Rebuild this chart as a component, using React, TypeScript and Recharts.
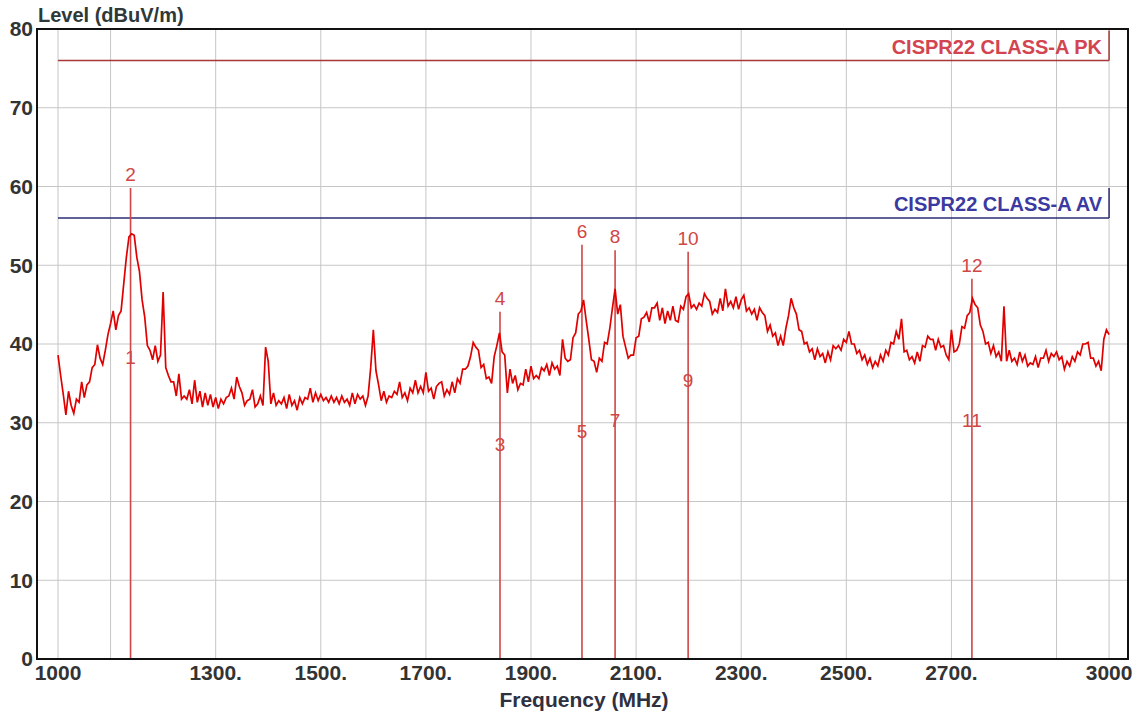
import { ComposedChart, Line, Scatter, XAxis, YAxis, CartesianGrid, ReferenceLine } from "recharts";

// sweep: 1000 .. 3000 MHz, one reading every 5 MHz (dBuV/m)
const START_MHZ = 1000;
const STEP_MHZ = 5;
const levels = [
  38.6, 36.0, 33.6, 31.0, 34.0, 32.2, 31.2, 33.0, 32.6, 35.2, 33.2, 34.8, 35.2, 37.0, 37.4, 39.9, 38.2, 37.4, 39.2, 41.2,
  42.6, 44.2, 41.8, 43.6, 44.2, 47.6, 51.0, 53.6, 54.0, 53.8, 51.0, 49.2, 45.6, 43.4, 39.8, 39.2, 38.0, 39.8, 37.8, 38.6,
  46.6, 37.0, 36.0, 35.2, 35.2, 33.4, 36.2, 33.0, 33.4, 33.0, 34.2, 32.4, 35.4, 32.6, 34.0, 32.0, 33.8, 32.2, 33.6, 32.0,
  33.2, 31.8, 33.0, 32.4, 33.2, 33.4, 34.4, 33.0, 35.8, 34.6, 33.8, 32.2, 32.8, 33.0, 34.2, 32.0, 32.4, 33.4, 32.2, 39.6,
  37.8, 32.4, 33.8, 32.2, 32.8, 32.4, 33.2, 31.8, 33.6, 32.2, 32.8, 31.6, 33.2, 32.4, 33.2, 33.0, 34.4, 32.6, 33.8, 32.8,
  33.6, 32.8, 33.2, 32.6, 33.4, 32.6, 33.2, 32.4, 33.4, 32.6, 33.0, 32.2, 33.8, 32.4, 33.6, 33.0, 33.4, 32.2, 33.4, 37.0,
  41.8, 36.6, 34.8, 32.8, 34.0, 32.6, 33.4, 33.2, 34.0, 33.6, 35.2, 33.2, 33.8, 32.8, 34.4, 33.8, 35.4, 33.8, 34.6, 33.8,
  36.4, 34.0, 34.4, 33.0, 34.6, 35.0, 35.2, 33.4, 34.2, 33.6, 35.2, 33.8, 35.6, 35.0, 36.8, 36.8, 37.2, 38.4, 40.2, 39.6,
  39.2, 37.0, 37.4, 35.6, 35.8, 35.0, 38.4, 39.8, 41.4, 39.0, 38.6, 33.8, 36.8, 35.0, 36.0, 34.2, 35.0, 34.8, 36.8, 35.2,
  37.2, 35.6, 36.0, 35.6, 37.0, 36.6, 37.4, 36.0, 37.6, 36.8, 37.2, 36.0, 40.6, 38.2, 37.8, 38.0, 40.8, 41.4, 43.8, 44.2,
  45.6, 43.0, 40.6, 38.0, 37.8, 36.4, 38.2, 37.8, 40.2, 40.0, 42.0, 44.6, 47.0, 43.8, 45.0, 41.0, 39.6, 38.2, 38.6, 38.6,
  40.8, 41.0, 43.2, 43.4, 44.0, 42.8, 44.6, 44.6, 45.2, 43.0, 44.6, 42.6, 44.2, 43.0, 44.8, 43.0, 42.8, 44.8, 44.4, 46.0,
  46.4, 44.6, 45.0, 44.4, 45.2, 44.8, 46.4, 45.8, 45.4, 43.8, 44.4, 44.0, 45.8, 44.2, 47.0, 44.8, 45.4, 44.6, 46.0, 44.4,
  45.6, 46.2, 44.2, 44.6, 43.8, 44.4, 43.0, 44.6, 44.0, 43.6, 41.6, 42.4, 41.0, 41.4, 39.8, 41.0, 39.8, 42.0, 43.6, 45.8,
  44.6, 43.8, 41.8, 41.6, 40.0, 40.2, 39.0, 39.4, 38.0, 39.4, 38.4, 38.8, 37.6, 39.0, 38.0, 39.8, 39.4, 39.8, 39.2, 40.6,
  40.2, 41.6, 40.0, 40.0, 38.8, 39.2, 38.0, 38.6, 37.4, 38.2, 37.0, 37.8, 37.2, 38.6, 37.8, 39.2, 38.6, 40.2, 40.0, 41.6,
  40.6, 43.2, 39.0, 39.2, 38.0, 38.4, 37.6, 39.0, 37.8, 39.8, 39.6, 41.0, 40.6, 40.6, 39.2, 40.6, 39.6, 39.8, 38.6, 38.0,
  41.8, 39.0, 39.2, 40.0, 42.2, 42.0, 43.6, 44.0, 45.8, 45.0, 44.6, 42.4, 41.6, 40.0, 40.2, 38.8, 39.8, 38.4, 39.0, 37.8,
  44.8, 37.8, 39.2, 37.8, 38.2, 37.4, 39.0, 37.8, 38.6, 37.2, 37.6, 37.4, 38.4, 37.0, 38.2, 38.2, 39.2, 37.8, 38.8, 38.4,
  39.0, 38.0, 38.4, 36.8, 37.8, 37.2, 38.4, 37.8, 39.0, 38.6, 40.0, 40.0, 40.2, 38.2, 38.2, 37.2, 37.8, 36.6, 40.6, 41.8,
  41.2,
];

// measurement markers: odd number = AV reading, even number = PK reading
const markerFreqs = [1138, 1841, 1997, 2060, 2199, 2739];
const markerPeaks = [59.8, 44.1, 52.6, 51.9, 51.7, 48.3];
const markerAvgs = [38.4, 27.3, 29.0, 30.3, 35.4, 30.3];

// limits
const limitNames = ["CISPR22 CLASS-A PK", "CISPR22 CLASS-A AV"];
const limitLevels = [76, 56];
const limitStart = 1000;
const limitEnd = 3000;

const xTicks = [1000, 1100, 1300, 1500, 1700, 1900, 2100, 2300, 2500, 2700, 2900, 3000];
const xLabels = ["1000", "", "1300.", "1500.", "1700.", "1900.", "2100.", "2300.", "2500.", "2700.", "", "3000"];
const yTicks = [0, 10, 20, 30, 40, 50, 60, 70, 80];

const spectrum = levels.map((level, i) => ({ freq: START_MHZ + i * STEP_MHZ, level }));
const markers = markerFreqs.map((freq, i) => ({
  freq,
  peak: markerPeaks[i],
  avg: markerAvgs[i],
  avgNo: String(i * 2 + 1),
  peakNo: String(i * 2 + 2),
}));
const limits = limitNames.map((name, i) => ({ freq: limitEnd, level: limitLevels[i], name }));

const W = 1142;
const H = 715;
const PLOT = { left: 37, top: 29, right: 1128, bottom: 659 };
const FONT = "'Liberation Sans', Arial, sans-serif";
const AXIS_TEXT = "#333";
const TRACE = "#e00000";
const MARKER = "#d04646";
const limitColors = ["#a83838", "#2c2c78"];
const limitTextColors = ["#d24450", "#3a3aa0"];

const PeakLabel = (props: any) => (
  <text x={props.cx} y={props.cy - 7} textAnchor="middle" fontFamily={FONT} fontSize={19} fill={MARKER}>
    {props.payload.peakNo}
  </text>
);

const AvgLabel = (props: any) => (
  <text x={props.cx} y={props.cy + 7} textAnchor="middle" fontFamily={FONT} fontSize={19} fill={MARKER}>
    {props.payload.avgNo}
  </text>
);

const LimitLabel = (props: any) => {
  const i = limitNames.indexOf(props.payload.name);
  return (
    <g>
      <line x1={props.cx} x2={props.cx} y1={props.cy - 30} y2={props.cy} stroke={limitColors[i]} strokeWidth={1.5} />
      <text
        x={props.cx - 7}
        y={props.cy - 7}
        textAnchor="end"
        fontFamily={FONT}
        fontWeight="bold"
        fontSize={20}
        fill={limitTextColors[i]}
      >
        {props.payload.name}
      </text>
    </g>
  );
};

const EmissionChart = () => {
  return (
    <div style={{ position: "absolute", left: 0, top: 0, width: W, height: H, background: "#fff" }}>
      <ComposedChart
        width={W}
        height={H}
        data={spectrum}
        margin={{ top: PLOT.top, right: W - PLOT.right, left: 0, bottom: 0 }}
      >
        <CartesianGrid stroke="#c6c6c6" strokeWidth={1} />
        <XAxis
          dataKey="freq"
          type="number"
          domain={[960, 3036]}
          ticks={xTicks}
          tickFormatter={(v: number) => xLabels[xTicks.indexOf(v)]}
          interval={0}
          height={H - PLOT.bottom}
          tickSize={0}
          tickMargin={6}
          axisLine={{ stroke: "#000", strokeWidth: 2 }}
          tick={{ fill: AXIS_TEXT, fontFamily: FONT, fontSize: 21, fontWeight: "bold" }}
        />
        <YAxis
          type="number"
          domain={[0, 80]}
          ticks={yTicks}
          interval={0}
          width={PLOT.left}
          tickSize={0}
          tickMargin={4}
          axisLine={{ stroke: "#000", strokeWidth: 2 }}
          tick={{ fill: AXIS_TEXT, fontFamily: FONT, fontSize: 21, fontWeight: "bold" }}
        />
        {limits.map((l, i) => (
          <ReferenceLine
            key={l.name}
            segment={[
              { x: limitStart, y: l.level },
              { x: limitEnd, y: l.level },
            ]}
            stroke={limitColors[i]}
            strokeWidth={1.5}
          />
        ))}
        {markers.map((m) => (
          <ReferenceLine
            key={m.freq}
            segment={[
              { x: m.freq, y: 0 },
              { x: m.freq, y: m.peak },
            ]}
            stroke={MARKER}
            strokeWidth={1.6}
          />
        ))}
        <Line
          dataKey="level"
          type="linear"
          stroke={TRACE}
          strokeWidth={1.7}
          dot={false}
          isAnimationActive={false}
        />
        <Scatter data={markers} dataKey="peak" shape={PeakLabel} isAnimationActive={false} />
        <Scatter data={markers} dataKey="avg" shape={AvgLabel} isAnimationActive={false} />
        <Scatter data={limits} dataKey="level" shape={LimitLabel} isAnimationActive={false} />
      </ComposedChart>
      <svg width={W} height={H} style={{ position: "absolute", left: 0, top: 0, pointerEvents: "none" }}>
        <rect
          x={PLOT.left}
          y={PLOT.top}
          width={PLOT.right - PLOT.left}
          height={PLOT.bottom - PLOT.top}
          fill="none"
          stroke="#111"
          strokeWidth={2}
        />
        <text x={38} y={22} fontFamily={FONT} fontWeight="bold" fontSize={20} fill="#2f3838">
          Level (dBuV/m)
        </text>
        <text x={584} y={707} textAnchor="middle" fontFamily={FONT} fontWeight="bold" fontSize={21} fill="#2f3040">
          Frequency (MHz)
        </text>
      </svg>
    </div>
  );
};

export default EmissionChart;
